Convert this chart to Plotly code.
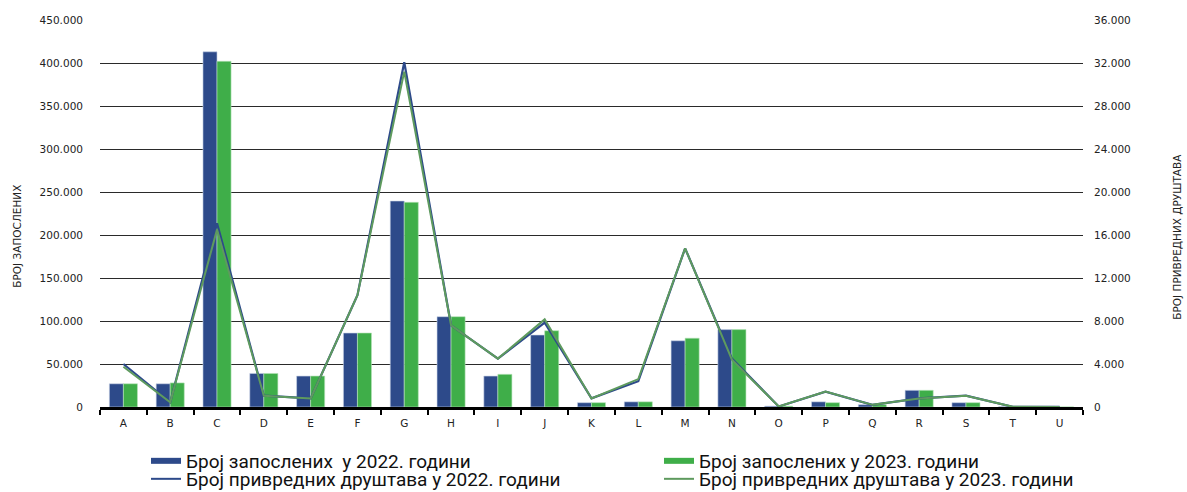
import plotly.graph_objects as go

categories = list("ABCDEFGHIJKLMNOPQRSTU")
employees_2022 = [27000, 27000, 413000, 39000, 36000, 86000, 239500, 105000, 36000, 83700, 5000, 6000,
                  77000, 90000, 1000, 6000, 2700, 19400, 5000, 500, 100]
employees_2023 = [27000, 28000, 402000, 39000, 36000, 86000, 238000, 105000, 38000, 88700, 5000, 6000,
                  80000, 90000, 1000, 5000, 2700, 19400, 5000, 500, 100]
companies_2022 = [4000, 440, 17100, 1050, 800, 10400, 32070, 7600, 4500, 7850, 800, 2400,
                  14760, 4500, 50, 1430, 200, 800, 1050, 20, 10]
companies_2023 = [3750, 440, 16500, 1050, 800, 10400, 31200, 7600, 4500, 8150, 800, 2600,
                  14760, 4400, 50, 1430, 200, 800, 1050, 20, 10]

names = ["Број запослених  у 2022. години", "Број запослених у 2023. години",
         "Број привредних друштава у 2022. години", "Број привредних друштава у 2023. години"]

BLUE = "#2d4a8a"
GREEN = "#3fae49"
LBLUE = "#2d4a8a"
LGREEN = "#5e9a5e"

fig = go.Figure()
fig.add_trace(go.Bar(x=categories, y=employees_2022, marker=dict(color=BLUE, line=dict(color="#c9d3e6", width=0.6)),
                     showlegend=False, name=names[0]))
fig.add_trace(go.Bar(x=categories, y=employees_2023, marker=dict(color=GREEN, line=dict(color="#b7e3b9", width=0.6)),
                     showlegend=False, name=names[1]))
fig.add_trace(go.Scatter(x=categories, y=companies_2022, mode="lines", line=dict(color=LBLUE, width=2.2),
                         yaxis="y2", showlegend=False, name=names[2]))
fig.add_trace(go.Scatter(x=categories, y=companies_2023, mode="lines", line=dict(color=LGREEN, width=2),
                         yaxis="y2", showlegend=False, name=names[3]))

# legend entries (row 1 -> legend, row 2 -> legend2)
leg_specs = [(names[0], BLUE, 6, "legend"), (names[1], GREEN, 6, "legend"),
             (names[2], LBLUE, 2, "legend2"), (names[3], LGREEN, 2, "legend2")]
for n, c, w, lg in leg_specs:
    fig.add_trace(go.Scatter(x=[None], y=[None], mode="lines", line=dict(color=c, width=w), name=n,
                             showlegend=True, legend=lg))

font_axis = "DejaVu Sans, sans-serif"
tick_font = dict(family=font_axis, size=10.5, color="#222")
leg_common = dict(orientation="h", x=-0.001, xanchor="left", yanchor="top",
                  entrywidth=421, entrywidthmode="pixels", indentation=47,
                  font=dict(family="Roboto, sans-serif", size=19, color="#111"),
                  bgcolor="rgba(0,0,0,0)")

fig.update_layout(
    width=1187, height=492,
    margin=dict(l=100, r=104, t=20, b=85, autoexpand=False),
    plot_bgcolor="white", paper_bgcolor="white",
    separators=",.",
    barmode="group", bargap=0.4, bargroupgap=0,
    xaxis=dict(type="category", showgrid=False, showline=True, linecolor="black", linewidth=3,
               ticks="outside", tickson="boundaries", ticklen=5, tickwidth=1.5, tickcolor="black",
               tickfont=tick_font, ticklabelstandoff=4,
               range=[-0.5, 20.5]),
    yaxis=dict(range=[0, 450000], dtick=50000, tickformat=",d", showgrid=True, gridcolor="#2a2a2a",
               gridwidth=1.2, zeroline=False, tickfont=tick_font, ticklabelstandoff=16),
    yaxis2=dict(range=[0, 36000], dtick=4000, tickformat=",d", overlaying="y", side="right",
                showgrid=False, zeroline=False, tickfont=tick_font, ticklabelstandoff=10),
    legend=dict(y=-0.0904, **leg_common),
    legend2=dict(y=-0.1369, **leg_common),
    annotations=[
        dict(text="БРОЈ ЗАПОСЛЕНИХ", xref="paper", yref="paper", x=-0.0844, y=0.44, textangle=-90,
             showarrow=False, font=dict(family=font_axis, size=10.5, color="#222"), xanchor="center", yanchor="middle"),
        dict(text="БРОЈ ПРИВРЕДНИХ ДРУШТАВА", xref="paper", yref="paper", x=1.0956, y=0.44, textangle=-90,
             showarrow=False, font=dict(family=font_axis, size=10.5, color="#222"), xanchor="center", yanchor="middle"),
    ],
)

fig.write_html("out.html", config={"displayModeBar": False},
               post_script="document.body.style.margin='0';document.body.style.overflow='hidden';")
